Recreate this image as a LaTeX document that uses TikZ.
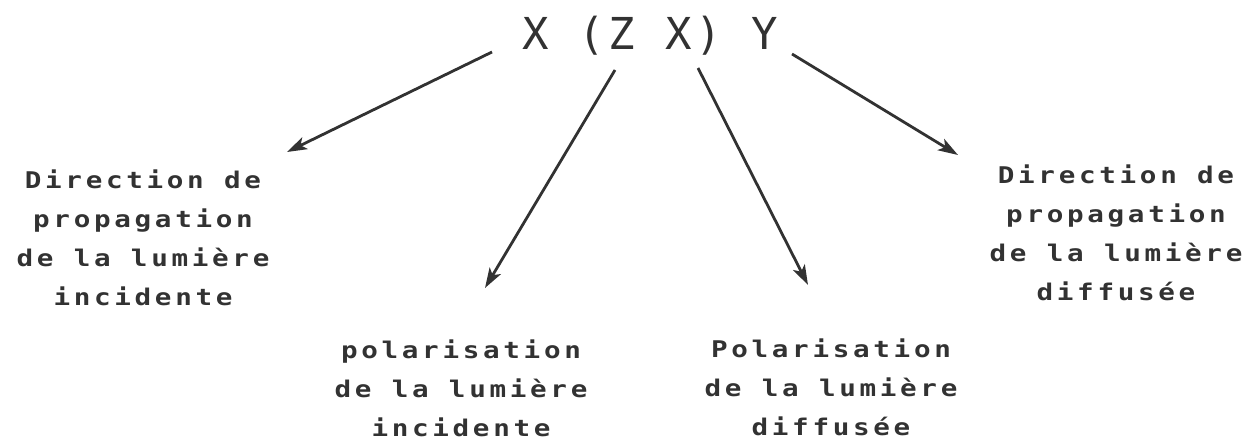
\documentclass[tikz,border=0pt]{standalone}
\usepackage{fontspec}
\usepackage{xcolor}
\usepackage{tikz}
\usetikzlibrary{arrows.meta, positioning}
\definecolor{plotink}{RGB}{50,50,50}
\newfontfamily\labelfont[FakeStretch=1.2,LetterSpace=16]{DejaVu Sans Mono}
\newfontfamily\titlefont[LetterSpace=8]{DejaVu Sans Mono}

\begin{document}
\begin{tikzpicture}[x=1pt, y=-1pt,
    notation/.style={font=\titlefont\fontsize{44}{50}\selectfont, text=plotink, anchor=base, inner sep=0pt},
    legend/.style={font=\labelfont\bfseries\fontsize{23}{39}\selectfont, text=plotink, align=center, anchor=north, inner sep=0pt},
    pointer/.style={draw=plotink, line width=2.8pt, -{Stealth[length=20pt,width=13pt,inset=5pt]}}]
    \useasboundingbox (0,0) rectangle (1253,441);

    % Porto notation
    \node[notation] (title) at (650,50) {X (Z X) Y};

    % what each letter stands for
    \node[legend] (incdir) at (143,170) {Direction de\\propagation\\de la lumière\\incidente};
    \node[legend] (incpol) at (461,340) {polarisation\\de la lumière\\incidente};
    \node[legend] (diffpol) at (831,339) {Polarisation\\de la lumière\\diffusée};
    \node[legend] (diffdir) at (1116,165) {Direction de\\propagation\\de la lumière\\diffusée};

    \coordinate (fromX1) at (492,52);
    \coordinate (fromZ) at (615,70);
    \coordinate (fromX2) at (698,68);
    \coordinate (fromY) at (792,54);
    \coordinate (toIncDir) at (287,152);
    \coordinate (toIncPol) at (485,288);
    \coordinate (toDiffPol) at (808,285);
    \coordinate (toDiffDir) at (958,155);

    \draw[pointer] (fromX1) -- (toIncDir);
    \draw[pointer] (fromZ) -- (toIncPol);
    \draw[pointer] (fromX2) -- (toDiffPol);
    \draw[pointer] (fromY) -- (toDiffDir);
\end{tikzpicture}
\end{document}
